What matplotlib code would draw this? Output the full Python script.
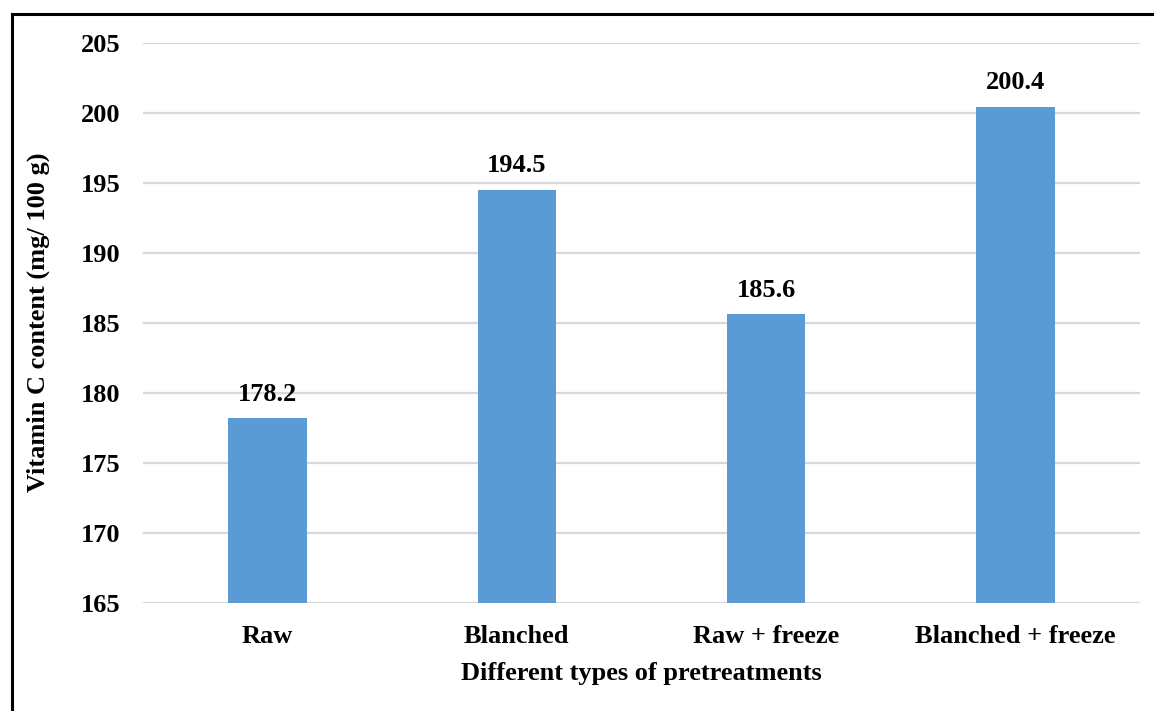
import matplotlib
matplotlib.use("Agg")
import matplotlib.pyplot as plt
from matplotlib.lines import Line2D

categories = ["Raw", "Blanched", "Raw + freeze", "Blanched + freeze"]
values = [178.2, 194.5, 185.6, 200.4]
yticks = [165, 170, 175, 180, 185, 190, 195, 200, 205]

plt.rcParams['font.family'] = ['Liberation Serif', 'DejaVu Serif']
plt.rcParams['font.weight'] = 'bold'

FS = 19

fig = plt.figure(figsize=(11.54, 7.11), dpi=100)
ax = fig.add_axes([143/1154, 1-603/711, (1140-143)/1154, (603-42.5)/711])

x = list(range(len(categories)))
bars = ax.bar(x, values, width=0.315, color="#5B9BD5", zorder=3)
ax.set_ylim(165, 205)
ax.set_xlim(-0.5, len(categories)-0.5)
ax.set_yticks(yticks)
ax.set_yticklabels([str(t) for t in yticks], fontsize=FS, fontweight='bold')
ax.set_xticks(x)
ax.set_xticklabels(categories, fontsize=FS, fontweight='bold')
ax.tick_params(axis='both', length=0)
ax.tick_params(axis='y', pad=16)
ax.tick_params(axis='x', pad=16)
ax.yaxis.grid(True, color="#D9D9D9", linewidth=1.6, zorder=0)
for s in ax.spines.values():
    s.set_visible(False)

for xi, v in zip(x, values):
    ax.annotate(f"{v:.1f}", (xi, v), xytext=(0, 9), textcoords="offset points",
                ha="center", va="bottom", fontsize=FS, fontweight='bold')

ax.set_xlabel("Different types of pretreatments", fontsize=FS, fontweight='bold', labelpad=10)
ax.set_ylabel("Vitamin C content (mg/ 100 g)", fontsize=FS, fontweight='bold', labelpad=22)

fig.add_artist(Line2D([12/1154, 1.0], [1-14/711, 1-14/711], color='black', linewidth=2.2, transform=fig.transFigure))
fig.add_artist(Line2D([12/1154, 12/1154], [0, 1-14/711], color='black', linewidth=2.2, transform=fig.transFigure))

fig.savefig("out.png", dpi=100)
